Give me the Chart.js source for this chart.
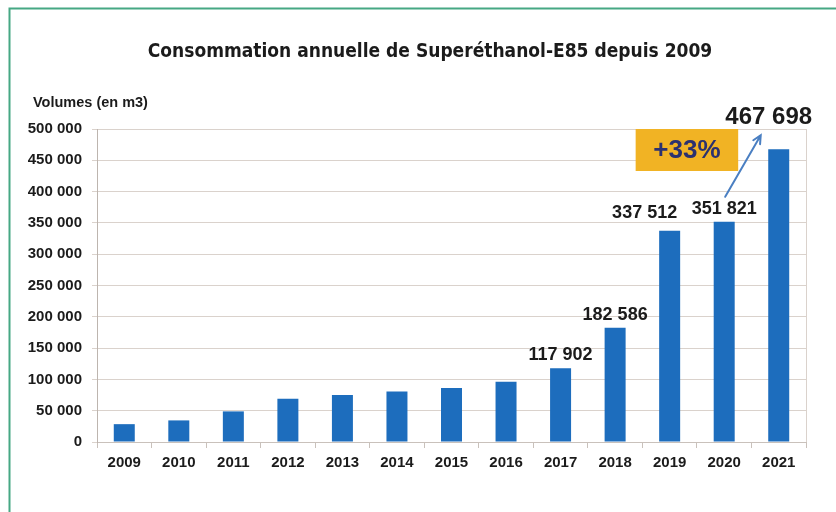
<!DOCTYPE html>
<html>
<head>
<meta charset="utf-8">
<script src="https://cdn.jsdelivr.net/npm/chart.js@4.4.1/dist/chart.umd.min.js"></script>
<style>
  html, body { margin: 0; padding: 0; background: #fff; }
  #wrap { width: 836px; height: 512px; }
</style>
</head>
<body>
<div id="wrap"><canvas id="chart" width="836" height="512"></canvas></div>
<script>
// Consommation annuelle de Superéthanol-E85 (m3)
const years = ['2009', '2010', '2011', '2012', '2013', '2014', '2015', '2016', '2017', '2018', '2019', '2020', '2021'];
const volumes = [28500, 34500, 48900, 69200, 75000, 80800, 86300, 96300, 117902, 182586, 337512, 351821, 467698];
// only the last five bars carry a value label
const labelled = [false, false, false, false, false, false, false, false, true, true, true, true, true];
const yTicks = [0, 50000, 100000, 150000, 200000, 250000, 300000, 350000, 400000, 450000, 500000];

const TITLE = 'Consommation annuelle de Superéthanol-E85 depuis 2009';
const Y_TITLE = 'Volumes (en m3)';
const GROWTH = '+33%';

const fmt = v => String(Math.round(v)).replace(/\B(?=(\d{3})+(?!\d))/g, ' ');

const TXT = '#1b1b1b';
const BAR = '#1d6dbd';
const GRID = '#dad2cc';

const decor = {
  id: 'decor',
  beforeDraw(chart) {
    const { ctx, width, height } = chart;
    ctx.save();
    ctx.fillStyle = '#fff';
    ctx.fillRect(0, 0, width, height);
    // green frame (top + left)
    ctx.strokeStyle = '#46a884';
    ctx.lineWidth = 2;
    ctx.beginPath();
    ctx.moveTo(9.5, height);
    ctx.lineTo(9.5, 8.5);
    ctx.lineTo(width, 8.5);
    ctx.stroke();
    // title
    ctx.fillStyle = TXT;
    ctx.textAlign = 'center';
    ctx.textBaseline = 'middle';
    ctx.font = 'bold 19px "DejaVu Sans Condensed", "DejaVu Sans", sans-serif';
    ctx.fillText(TITLE, 430, 52);
    // y axis title
    ctx.textAlign = 'left';
    ctx.font = 'bold 14.5px "Liberation Sans", Arial, sans-serif';
    ctx.fillText(Y_TITLE, 33, 103);
    ctx.restore();
  },
  beforeDatasetsDraw(chart) {
    const { ctx, chartArea } = chart;
    ctx.save();
    ctx.strokeStyle = GRID;
    ctx.lineWidth = 1;
    ctx.beginPath();
    ctx.moveTo(Math.round(chartArea.right) + 0.5, chartArea.top);
    ctx.lineTo(Math.round(chartArea.right) + 0.5, chartArea.bottom);
    ctx.stroke();
    ctx.restore();
  },
  afterDatasetsDraw(chart) {
    const { ctx } = chart;
    const meta = chart.getDatasetMeta(0);
    const y = chart.scales.y;
    const last = meta.data.length - 1;
    ctx.save();
    ctx.fillStyle = TXT;
    ctx.textAlign = 'center';
    ctx.textBaseline = 'middle';
    meta.data.forEach((bar, i) => {
      if (!labelled[i]) return;
      let dx = 0, dy = -13, size = 18;
      if (i === last - 2) { dx = -25; dy = -18; }
      if (i === last) { dx = -10; dy = -32; size = 24; }
      ctx.font = 'bold ' + size + 'px "Liberation Sans", Arial, sans-serif';
      ctx.fillText(fmt(volumes[i]), bar.x + dx, bar.y + dy);
    });

    // growth badge
    const b19 = meta.data[last - 2], b20 = meta.data[last - 1], b21 = meta.data[last];
    const bx0 = b19.x - 34, bx1 = b20.x + 14;
    const by0 = y.getPixelForValue(500000), by1 = by0 + 42;
    ctx.fillStyle = '#f1b324';
    ctx.fillRect(bx0, by0, bx1 - bx0, by1 - by0);
    ctx.fillStyle = '#2b3170';
    ctx.font = 'bold 26px "Liberation Sans", Arial, sans-serif';
    ctx.fillText(GROWTH, (bx0 + bx1) / 2, (by0 + by1) / 2 + 1);

    // arrow 2020 -> 2021
    const x0 = b20.x + 1, y0 = y.getPixelForValue(volumes[last - 1]) - 25;
    const x1 = b21.x - 18, y1 = y.getPixelForValue(volumes[last]) - 14;
    const ang = Math.atan2(y1 - y0, x1 - x0);
    ctx.strokeStyle = '#4a7fc2';
    ctx.lineWidth = 2;
    ctx.lineCap = 'round';
    ctx.beginPath();
    ctx.moveTo(x0, y0);
    ctx.lineTo(x1, y1);
    ctx.moveTo(x1 - 9 * Math.cos(ang - 0.45), y1 - 9 * Math.sin(ang - 0.45));
    ctx.lineTo(x1, y1);
    ctx.lineTo(x1 - 9 * Math.cos(ang + 0.45), y1 - 9 * Math.sin(ang + 0.45));
    ctx.stroke();
    ctx.restore();
  }
};

new Chart(document.getElementById('chart').getContext('2d'), {
  type: 'bar',
  data: {
    labels: years,
    datasets: [{ data: volumes, backgroundColor: BAR, borderWidth: 0, barPercentage: 0.77, categoryPercentage: 0.5 }]
  },
  options: {
    responsive: false,
    animation: false,
    devicePixelRatio: 1,
    layout: { padding: { left: 0, right: 30, top: 129, bottom: 40 } },
    plugins: { legend: { display: false }, tooltip: { enabled: false }, title: { display: false } },
    scales: {
      x: {
        afterFit: s => { s.height = 30; },
        grid: { drawOnChartArea: false, drawTicks: true, tickLength: 6, color: '#c9c1bb', offset: true },
        border: { display: true, color: '#c9c1bb' },
        ticks: { color: TXT, padding: 6, font: { family: '"Liberation Sans", Arial, sans-serif', size: 15, weight: 'bold' } }
      },
      y: {
        min: 0,
        max: 500000,
        afterFit: s => { s.width = 97; },
        afterBuildTicks: s => { s.ticks = yTicks.map(v => ({ value: v })); },
        grid: { color: GRID, tickLength: 5, drawTicks: true },
        border: { display: true, color: '#bdb5af' },
        ticks: {
          color: TXT,
          padding: 10,
          callback: v => fmt(v),
          font: { family: '"Liberation Sans", Arial, sans-serif', size: 15, weight: 'bold' }
        }
      }
    }
  },
  plugins: [decor]
});
</script>
</body>
</html>
